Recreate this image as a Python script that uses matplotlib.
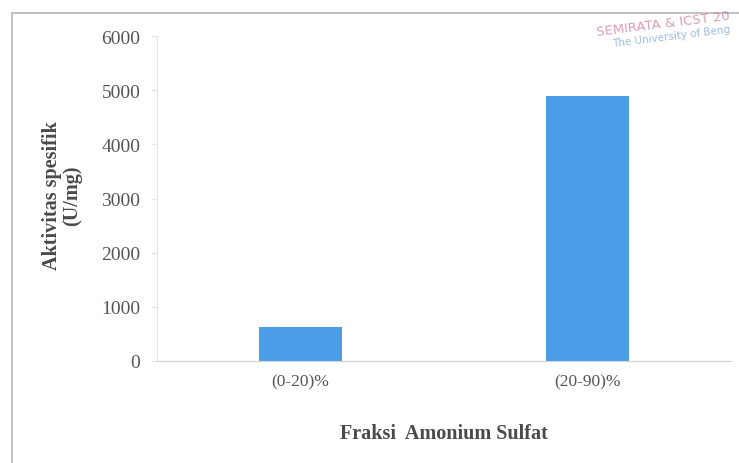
import matplotlib.pyplot as plt
from matplotlib.patches import Rectangle

# Aktivitas spesifik tiap fraksi amonium sulfat
fraksi = ['(0-20)%', '(20-90)%']
aktivitas = [630, 4890]
yticks = [0, 1000, 2000, 3000, 4000, 5000, 6000]

plt.rcParams['font.family'] = ['Liberation Serif', 'DejaVu Serif']
txt = '#4a4a4a'

fig = plt.figure(figsize=(7.39, 4.64), dpi=100)
fig.patches.append(Rectangle((12 / 739, -0.1), 1.2, 1.1 - 14 / 464,
                             transform=fig.transFigure, fill=False,
                             edgecolor='#b8b8b8', linewidth=1.2))

ax = fig.add_axes([157 / 739, 1 - 362 / 464, 574 / 739, 325 / 464])
ax.bar(range(len(fraksi)), aktivitas, width=0.29, color='#4a9de6')
ax.set_xlim(-0.5, 1.5)
ax.set_ylim(0, 6000)
ax.set_yticks(yticks)
ax.set_xticks(range(len(fraksi)))
ax.set_xticklabels(fraksi)

for s in ['top', 'right']:
    ax.spines[s].set_visible(False)
ax.spines['left'].set_color('#e4e4e4')
ax.spines['bottom'].set_color('#d0d0d0')
ax.tick_params(axis='y', length=4, color='#e4e4e4', pad=8,
               labelsize=14, labelcolor='#555555')
ax.tick_params(axis='x', length=0, pad=9, labelsize=12.5, labelcolor='#555555')

ax.set_xlabel('Fraksi  Amonium Sulfat', fontsize=14.5, fontweight='bold',
              color=txt, labelpad=24)
fig.text(62 / 739, 1 - 196 / 464, 'Aktivitas spesifik\n(U/mg)',
         rotation=90, ha='center', va='center', fontsize=14.5,
         fontweight='bold', color=txt, linespacing=1.05)

# stempel konferensi di pojok kanan atas
fig.text(596 / 739, 1 - 24 / 464, 'SEMIRATA & ICST 20', fontsize=9.5,
         color='#c86a9a', alpha=0.65, rotation=7, ha='left', va='center',
         family='DejaVu Sans')
fig.text(612 / 739, 1 - 37 / 464, 'The University of Beng', fontsize=7.5,
         color='#5a8fd0', alpha=0.6, rotation=7, ha='left', va='center',
         family='DejaVu Sans')

fig.savefig('out.png', dpi=100)
